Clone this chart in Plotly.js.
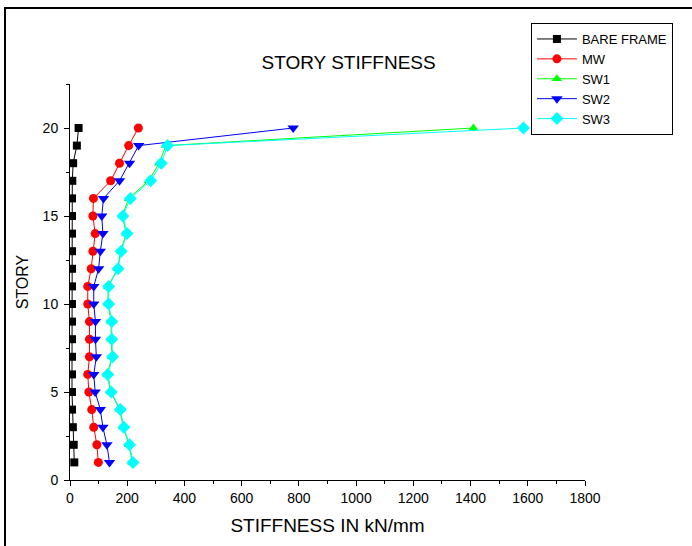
<!DOCTYPE html>
<html>
<head>
<meta charset="utf-8">
<script src="https://cdn.plot.ly/plotly-3.0.1.min.js"></script>
<style>
  html, body { margin: 0; padding: 0; background: #fff; }
  #chart { width: 692px; height: 546px; position: absolute; left: 0; top: 0; }
  #frame { position: absolute; left: 4px; top: 7px; width: 700px; height: 560px;
           border-left: 2px solid #000; border-top: 2px solid #000; pointer-events: none; }
</style>
</head>
<body>
<div id="chart"></div>
<div id="frame"></div>
<script>
const stories = [1,2,3,4,5,6,7,8,9,10,11,12,13,14,15,16,17,18,19,20];
const bareFrame = [15,13,10,7,7,7,7,7,7,7,7,7,7,7,7,7,8,11,24,30];
const mw   = [99,94,83,76,66,62,68,68,68,62,62,74,80,88,80,82,142,173,205,239];
const sw1  = [218,206,186,174,142,130,147,144,144,133,133,166,177,197,183,205,275,312,335,1410];
const sw2  = [138,129,115,106,88,83,92,89,89,83,83,100,106,115,111,117,173,208,240,780];
const sw3  = [220,208,188,176,144,132,149,146,146,135,135,168,179,199,185,211,282,319,341,1585];

const names = ['BARE FRAME','MW','SW1','SW2','SW3'];
const series = [bareFrame, mw, sw1, sw2, sw3];
const colors = ['#000000','#ff0000','#00ff00','#0000ff','#00ffff'];
const symbols = ['square','circle','triangle-up','triangle-down','diamond'];
const sizes = [8,9,9,10,10];

const traces = series.map((s, i) => ({
  x: s, y: stories, type: 'scatter', mode: 'lines+markers', name: names[i],
  line: {color: colors[i], width: 1},
  marker: {color: colors[i], symbol: symbols[i], size: sizes[i], line: {width: 0}}
}));

const font = 'Arial, "Liberation Sans", sans-serif';
const layout = {
  width: 692, height: 546,
  margin: {l: 70, r: 107, t: 84, b: 66},
  paper_bgcolor: '#fff', plot_bgcolor: '#fff',
  font: {family: font, color: '#000', size: 14},
  showlegend: true,
  title: {text: 'STORY STIFFNESS', font: {size: 19, family: font, color: '#000'},
          x: 0.541, xref: 'paper', xanchor: 'center', y: 0.886, yanchor: 'middle'},
  xaxis: {
    range: [0, 1800], dtick: 200, tick0: 0, showgrid: false, zeroline: false,
    showline: true, linecolor: '#000', linewidth: 1,
    ticks: 'outside', ticklen: 5, tickcolor: '#000', tickwidth: 1,
    minor: {dtick: 100, ticks: 'outside', ticklen: 3, tickcolor: '#000', showgrid: false},
    tickfont: {size: 14},
    title: {text: 'STIFFNESS IN kN/mm', font: {size: 19}, standoff: 13}
  },
  yaxis: {
    range: [0, 22.5], dtick: 5, tick0: 0, showgrid: false, zeroline: false,
    showline: true, linecolor: '#000', linewidth: 1,
    ticks: 'outside', ticklen: 5, tickcolor: '#000', tickwidth: 1,
    ticklabelstandoff: 3,
    minor: {dtick: 2.5, ticks: 'outside', ticklen: 3, tickcolor: '#000', showgrid: false},
    tickfont: {size: 14},
    title: {text: 'STORY', font: {size: 16}, standoff: 10}
  },
  legend: {
    x: 0.895, y: 1.154, xanchor: 'left', yanchor: 'top',
    bordercolor: '#000', borderwidth: 1, bgcolor: '#fff',
    font: {size: 13, family: font},
    itemwidth: 40, tracegroupgap: 0,
    entrywidth: 100, entrywidthmode: 'pixels'
  }
};

Plotly.newPlot('chart', traces, layout, {displayModeBar: false, staticPlot: true});
</script>
</body>
</html>
